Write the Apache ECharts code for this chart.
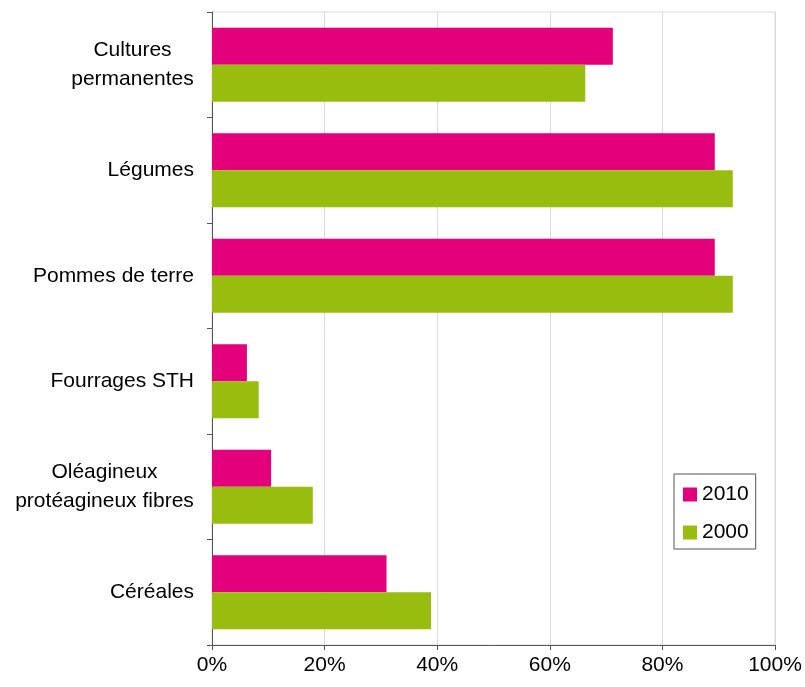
<!DOCTYPE html>
<html>
<head>
<meta charset="utf-8">
<script src="https://cdn.jsdelivr.net/npm/echarts@6/dist/echarts.min.js"></script>
<style>
  html, body { margin: 0; padding: 0; background: #fff; }
  #chart { width: 805px; height: 687px; }
</style>
</head>
<body>
<div id="chart"></div>
<script>
var categories = ['Cultures\npermanentes', 'Légumes', 'Pommes de terre', 'Fourrages STH', 'Oléagineux\nprotéagineux fibres', 'Céréales'];
var values2010 = [71.2, 89.3, 89.3, 6.2, 10.5, 31.0];
var values2000 = [66.3, 92.5, 92.5, 8.3, 17.9, 38.9];
var xTicks = [0, 20, 40, 60, 80, 100];

var FONT = 'Liberation Sans, Arial, sans-serif';
var LABEL_SIZE = 21;
var LINE_H = 29;

// mesure du texte pour centrer les libellés sur deux lignes
var ctx = document.createElement('canvas').getContext('2d');
ctx.font = LABEL_SIZE + 'px ' + FONT;

var rich = {};
var fmtCache = {};
function buildFmt(value) {
    var lines = value.split('\n');
    if (lines.length == 1) return value;
    var w = 0;
    lines.forEach(function (l) { w = Math.max(w, ctx.measureText(l).width); });
    w = Math.ceil(w);
    rich['b' + w] = { width: w, align: 'center', fontSize: LABEL_SIZE, fontFamily: FONT, color: '#000', lineHeight: LINE_H };
    return lines.map(function (l) { return '{b' + w + '|' + l + '}'; }).join('\n');
}
categories.forEach(function (c) { fmtCache[c] = buildFmt(c); });

var chart = echarts.init(document.getElementById('chart'));

var option = {
    animation: false,
    textStyle: { fontFamily: FONT },
    grid: {
        left: 212, top: 12, right: 30, bottom: 42,
        show: true, borderColor: '#d9d9d9', borderWidth: 1
    },
    legend: {
        orient: 'vertical',
        left: 674, top: 474,
        data: ['2010', '2000'],
        icon: 'rect',
        itemWidth: 14, itemHeight: 14,
        itemGap: 17,
        padding: [10, 7, 6, 9],
        borderColor: '#555', borderWidth: 1,
        textStyle: { fontSize: LABEL_SIZE, color: '#000', fontFamily: FONT }
    },
    xAxis: {
        type: 'value',
        min: 0, max: 100, interval: 20,
        axisLine: { show: true, lineStyle: { color: '#555' } },
        axisTick: { show: true, length: 5, lineStyle: { color: '#555' } },
        splitLine: { show: true, lineStyle: { color: '#d9d9d9' } },
        axisLabel: {
            fontSize: LABEL_SIZE, color: '#000', fontFamily: FONT, margin: 10,
            formatter: function (v) { return xTicks.indexOf(v) >= 0 ? v + '%' : ''; }
        }
    },
    yAxis: {
        type: 'category',
        inverse: true,
        data: categories,
        axisLine: { show: true, lineStyle: { color: '#555' } },
        axisTick: { show: true, length: 5, lineStyle: { color: '#555' } },
        axisLabel: {
            fontSize: LABEL_SIZE, color: '#000', fontFamily: FONT, margin: 18,
            lineHeight: LINE_H,
            formatter: function (v) { return fmtCache[v]; },
            rich: rich
        }
    },
    series: [
        {
            name: '2010', type: 'bar',
            data: values2010,
            barWidth: 37, barGap: '0%',
            itemStyle: { color: '#E3007A' }
        },
        {
            name: '2000', type: 'bar',
            data: values2000,
            barWidth: 37, barGap: '0%',
            itemStyle: { color: '#99BD0F' }
        }
    ]
};
chart.setOption(option);
</script>
</body>
</html>
